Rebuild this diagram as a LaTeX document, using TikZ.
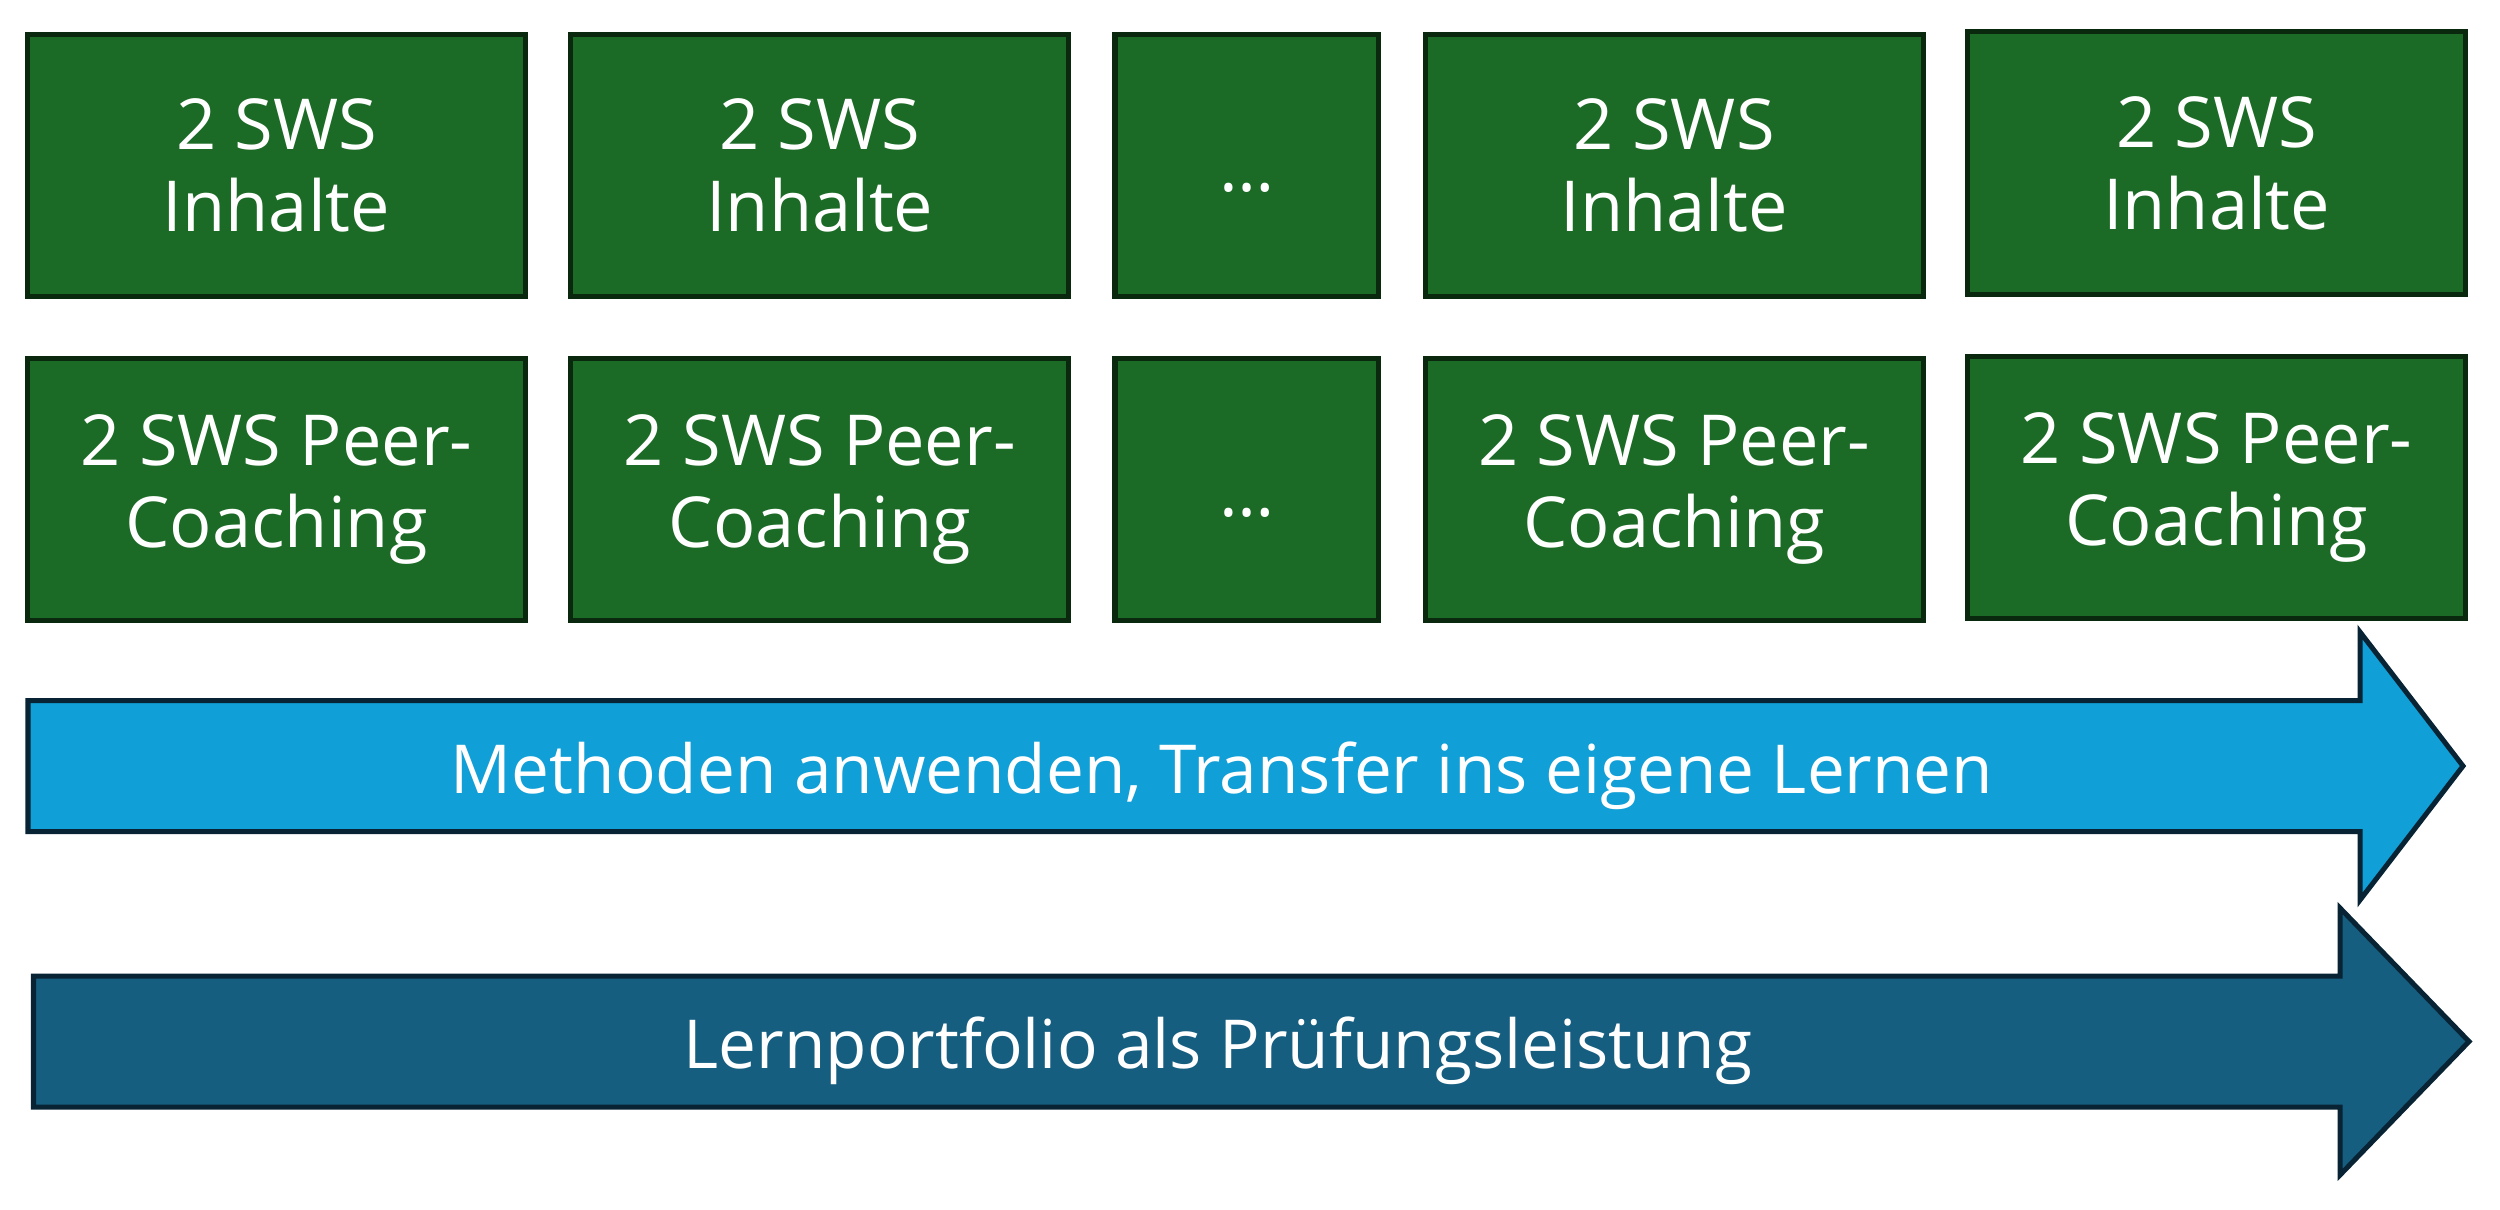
\documentclass[tikz,border=0pt]{standalone}
\usepackage{fontspec}
\setmainfont{Open Sans}
\usetikzlibrary{positioning}

\definecolor{boxgreen}{RGB}{27,106,37}
\definecolor{boxline}{RGB}{10,40,14}
\definecolor{lightblue}{RGB}{16,159,214}
\definecolor{darkblue}{RGB}{22,94,128}
\definecolor{arrowline}{RGB}{8,35,52}

\begin{document}
\begin{tikzpicture}[x=0.01cm, y=-0.01cm,
	sws/.style={rectangle, draw=boxline, fill=boxgreen, line width=0.05cm, text=white, align=center,
		minimum width=4.98cm, minimum height=2.62cm, font=\fontsize{20}{23.3}\selectfont},
	dots/.style={sws, minimum width=2.63cm},
	band/.style={draw=arrowline, line width=0.05cm, line join=miter},
	bandtext/.style={text=white, anchor=base, font=\fontsize{19.2}{23}\selectfont}]
	\useasboundingbox (0,0) rectangle (2500,1209);

	\node[sws] (i1) at (276.5,165.5) {2 SWS\\Inhalte};
		\node[sws, right=0.40cm of i1] (i2) {2 SWS\\Inhalte};
		\node[dots, right=0.41cm of i2] (i3) {\strut\raisebox{-0.1cm}{…}};
		\node[sws, right=0.42cm of i3] (i4) {2 SWS\\Inhalte};
		\node[sws, right=0.39cm of i4, yshift=0.025cm] (i5) {2 SWS\\Inhalte};

	\node[sws, below=0.57cm of i1] (p1) {2 SWS Peer-\\Coaching};
		\node[sws, below=0.57cm of i2] (p2) {2 SWS Peer-\\Coaching};
		\node[dots, below=0.57cm of i3] (p3) {\strut\raisebox{-0.1cm}{…}};
		\node[sws, below=0.57cm of i4] (p4) {2 SWS Peer-\\Coaching};
		\node[sws, below=0.57cm of i5] (p5) {2 SWS Peer-\\Coaching};

	\draw[band, fill=lightblue]
		(28,700.5) -- (2360,700.5) -- (2360,632) -- (2463,766)
		-- (2360,900) -- (2360,831.5) -- (28,831.5) -- cycle;
	\node[bandtext] (methoden) at (1222,793) {Methoden anwenden, Transfer ins eigene Lernen};

	\draw[band, fill=darkblue]
		(33.5,976) -- (2340,976) -- (2340,908) -- (2469,1041.5)
		-- (2340,1175) -- (2340,1107) -- (33.5,1107) -- cycle;
	\node[bandtext] (portfolio) at (1218,1068) {Lernportfolio als Prüfungsleistung};
\end{tikzpicture}
\end{document}
